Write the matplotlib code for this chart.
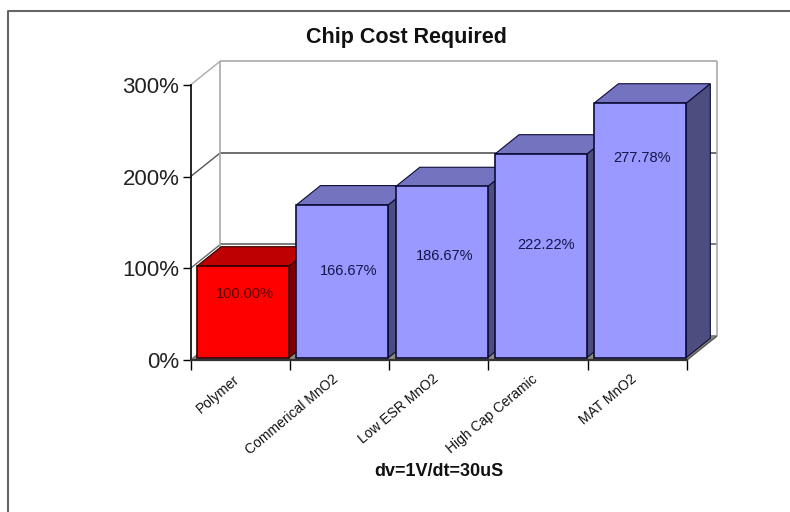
import matplotlib
matplotlib.use('Agg')
import matplotlib.pyplot as plt
from matplotlib.lines import Line2D
from matplotlib.patches import Polygon

categories = ['Polymer', 'Commerical MnO2', 'Low ESR MnO2', 'High Cap Ceramic', 'MAT MnO2']
values = [100.00, 166.67, 186.67, 222.22, 277.78]
y_ticks = [0, 100, 200, 300]
label_xs = [0.55, 1.59, 2.56, 3.58, 4.55]
label_heights = [72, 97, 114, 125, 220]

# fake 3d: how far the back wall sits from the front plane, in data units
DX = 0.302
DY = 26.2
BAR_W = 0.926

plt.rcParams['font.family'] = ['Liberation Sans', 'DejaVu Sans']

W, H = 790, 512
fig = plt.figure(figsize=(W / 100, H / 100), dpi=100, facecolor='white')
ax = fig.add_axes([190.5 / W, (H - 360) / H, 496.5 / W, 275 / H])
ax.set_xlim(0, 5)
ax.set_ylim(0, 300)
ax.patch.set_visible(False)


def proj(x, y, d):
    return (x + d * DX, y + d * DY)


def line3d(p0, p1, color, lw=1.0, z=1):
    ax.plot([p0[0], p1[0]], [p0[1], p1[1]], color=color, lw=lw, zorder=z,
            clip_on=False, solid_capstyle='butt')


# floor
ax.add_patch(Polygon([proj(0, 0, 0), proj(5, 0, 0), proj(5, 0, 1), proj(0, 0, 1)],
                     closed=True, fc='#8a8a78', ec='none', zorder=1, clip_on=False))

# walls and gridlines
grid_cols = {0: '#777777', 100: '#666666', 200: '#555555', 300: '#aaaaaa'}
for t in y_ticks:
    c = grid_cols[t]
    line3d(proj(0, t, 0), proj(0, t, 1), c, 1.0)
    line3d(proj(0, t, 1), proj(5, t, 1), c, 1.2)
line3d(proj(0, 0, 1), proj(0, 300, 1), '#aaaaaa', 1.2)
line3d(proj(5, 0, 1), proj(5, 300, 1), '#aaaaaa', 1.2)
line3d(proj(5, 0, 0), proj(5, 0, 1), '#555555', 1.0)

# bars drawn left to right so each one covers the side of the previous
for i, v in enumerate(values):
    if i == 0:
        front, top, side = '#ff0000', '#bf0000', '#800000'
        edge, txt = '#300000', '#5a0000'
    else:
        front, top, side = '#9999ff', '#7373bf', '#4d4d80'
        edge, txt = '#0c0c38', '#14144a'
    x0 = i + (1 - BAR_W) / 2
    x1 = x0 + BAR_W
    z = 3 + i
    ax.add_patch(Polygon([proj(x1, 0, 0.1), proj(x1, 0, 0.9), proj(x1, v, 0.9), proj(x1, v, 0.1)],
                         closed=True, fc=side, ec=edge, lw=0.8, zorder=z, clip_on=False))
    ax.add_patch(Polygon([proj(x0, v, 0.1), proj(x1, v, 0.1), proj(x1, v, 0.9), proj(x0, v, 0.9)],
                         closed=True, fc=top, ec=edge, lw=0.8, zorder=z, clip_on=False))
    ax.add_patch(Polygon([proj(x0, 0, 0.1), proj(x1, 0, 0.1), proj(x1, v, 0.1), proj(x0, v, 0.1)],
                         closed=True, fc=front, ec=edge, lw=1.2, zorder=z, clip_on=False))
    ax.text(label_xs[i], label_heights[i], '%.2f%%' % v, color=txt, fontsize=10.5,
            ha='center', va='center', zorder=20)

for s in ['top', 'right']:
    ax.spines[s].set_visible(False)
ax.spines['left'].set_linewidth(1.2)
ax.spines['bottom'].set_linewidth(1.6)
ax.spines['bottom'].set_color('#333333')
ax.spines['left'].set_zorder(15)
ax.spines['bottom'].set_zorder(15)

ax.set_yticks(y_ticks)
ax.set_yticklabels(['%d%%' % t for t in y_ticks], fontsize=16, color='#222222')
ax.tick_params(axis='y', length=6, width=1.0, pad=2)
ax.set_xticks(range(6))
ax.set_xticklabels([])
ax.tick_params(axis='x', length=7, width=1.0)

for i, name in enumerate(categories):
    ax.annotate(name, xy=(i + 0.5, 0), xytext=(-7, -12), textcoords='offset pixels',
                rotation=40, rotation_mode='anchor', ha='right', va='top',
                fontsize=10, color='#111111', annotation_clip=False)

fig.text(406 / W, 1 - 37 / H, 'Chip Cost Required', fontsize=15.5, fontweight='bold',
         ha='center', va='center', color='#111111')
fig.text(439 / W, 1 - 471 / H, 'dv=1V/dt=30uS', fontsize=13, fontweight='bold',
         ha='center', va='center', color='#111111')

# outer frame of the chart area
fig.add_artist(Line2D([8 / W, 8 / W, 1], [0, 1 - 11 / H, 1 - 11 / H], color='#666666', lw=1.5))

fig.savefig('out.png', dpi=100)
